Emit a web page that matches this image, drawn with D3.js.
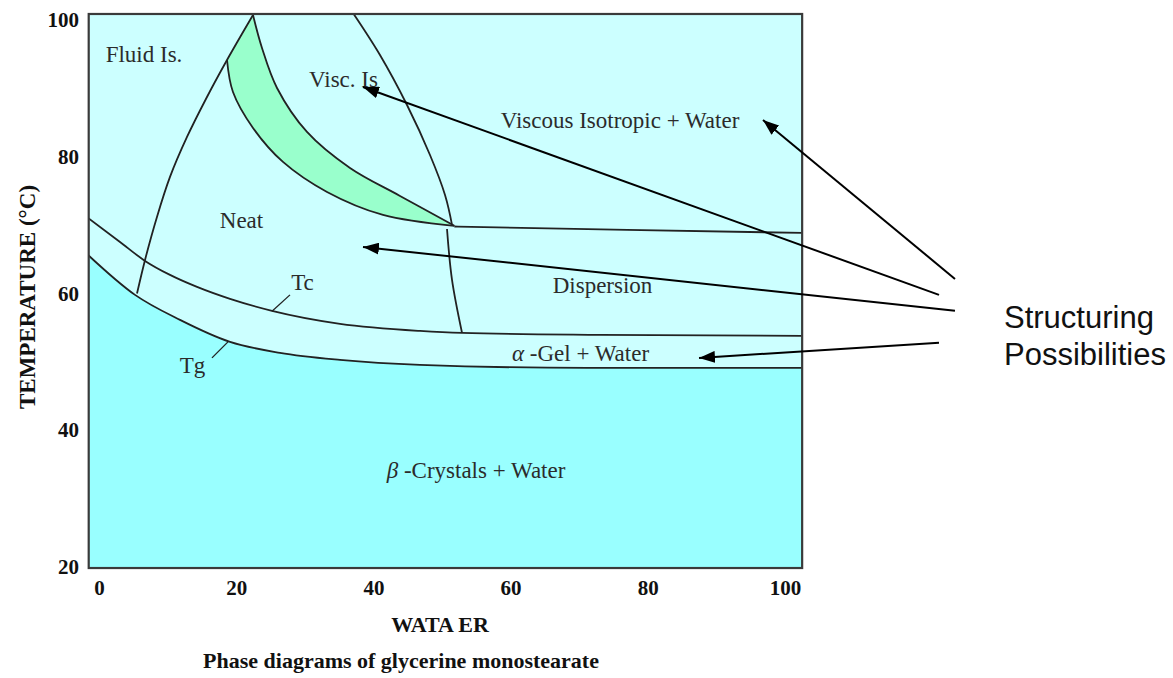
<!DOCTYPE html>
<html>
<head>
<meta charset="utf-8">
<script src="https://d3js.org/d3.v7.min.js"></script>
<style>
  body { margin: 0; background: #fff; }
  svg { display: block; }
  .lbl { font-family: "Liberation Serif", "Times New Roman", serif; font-size: 23px; fill: #2b2b2b; }
  .axis text { font-family: "Liberation Serif", "Times New Roman", serif; font-weight: bold; font-size: 21px; fill: #111; }
  .boundary { fill: none; stroke: #222; stroke-width: 1.8; }
</style>
</head>
<body>
<div id="diagram"></div>
<script>
// tick labels
var xTicks = [0, 20, 40, 60, 80, 100];
var yTicks = [20, 40, 60, 80, 100];

// phase boundaries, [water %, temperature °C]
var fluidNeat = [[22.45, 100.73], [18.66, 94.15], [15.74, 88.74], [12.83, 82.89], [10.35, 77.05], [8.45, 71.20], [6.71, 64.91], [5.54, 60.0]];
var bandUpper = [[22.45, 100.73], [23.76, 95.91], [25.95, 90.06], [30.32, 83.63], [36.59, 78.36], [43.88, 74.27], [51.8, 69.9]];
var bandLower = [[18.66, 94.15], [19.53, 89.47], [22.45, 84.21], [26.82, 79.24], [33.24, 74.85], [41.40, 71.49], [51.8, 69.9]];
var viscLine = [[37.03, 101.02], [40.96, 94.88], [44.90, 87.57], [48.25, 80.26], [50.44, 74.42], [51.46, 70.03]];
var dispersionLine = [[50.73, 69.44], [51.46, 61.99], [52.92, 54.24]];
var viscWaterLine = [[51.8, 69.8], [77, 69.3], [102.5, 68.86]];
var tcCurve = [[-1.6, 71.05], [3.06, 67.54], [6.71, 64.77], [10.35, 62.72], [14.29, 60.96], [19.10, 59.21], [25.22, 57.46], [35.13, 55.56], [46.79, 54.53], [52.92, 54.24], [73.03, 53.95], [102.5, 53.8]];
var tgCurve = [[-1.6, 65.64], [5.25, 59.80], [11.81, 56.14], [19.10, 52.92], [26.38, 51.32], [35.13, 50.29], [46.79, 49.56], [71.14, 49.12], [102.5, 49.12]];

// region names: [text, water, temperature]
var regionNames = [
  ["Fluid Is.", 6.56, 93.86],
  ["Visc. Is", 35.64, 90.20],
  ["Viscous Isotropic + Water", 75.95, 84.21],
  ["Neat", 20.77, 69.59],
  ["Dispersion", 73.40, 60.09],
  ["Tc", 29.66, 60.53],
  ["Tg", 13.63, 48.39]
];
var tcLeader = [[25.22, 57.40], [27.84, 59.80]];
var tgLeader = [[18.80, 52.92], [16.47, 50.58]];

// arrows to the structuring possibilities: [tail, tip]
var arrows = [
  [[124.78, 62.13], [96.79, 85.38]],
  [[122.45, 59.80], [38.48, 90.20]],
  [[124.78, 57.46], [38.48, 66.81]],
  [[122.45, 52.78], [87.46, 50.58]]
];

function gen_diagram() {
  var margin = {top: 20, left: 99},
      width = 686,
      height = 547;

  var x = d3.scaleLinear().domain([0, 100]).range([0, width]);
  var y = d3.scaleLinear().domain([20, 100]).range([height, 0]);

  var svg = d3.select("#diagram")
    .append("svg")
      .attr("width", 1173)
      .attr("height", 678);

  var defs = svg.append("defs");
  defs.append("marker")
      .attr("id", "head")
      .attr("viewBox", "0 -6 16 12")
      .attr("refX", 16)
      .attr("refY", 0)
      .attr("markerWidth", 16)
      .attr("markerHeight", 12)
      .attr("markerUnits", "userSpaceOnUse")
      .attr("orient", "auto")
    .append("path")
      .attr("d", "M0,-6L16,0L0,6Z")
      .attr("fill", "#000");

  var fx0 = x(-1.5), fx1 = x(102.5), fy0 = y(100.88), fy1 = y(19.85);
  defs.append("clipPath").attr("id", "plotclip")
    .append("rect")
      .attr("x", fx0).attr("y", fy0)
      .attr("width", fx1 - fx0).attr("height", fy1 - fy0);

  var g = svg.append("g")
      .attr("transform", "translate(" + margin.left + "," + margin.top + ")");

  // smooth line through the read points
  var line = d3.line()
      .x(function(d) { return x(d[0]); })
      .y(function(d) { return y(d[1]); })
      .curve(d3.curveCatmullRom);

  // curves that are functions of water content
  var lineX = d3.line()
      .x(function(d) { return x(d[0]); })
      .y(function(d) { return y(d[1]); })
      .curve(d3.curveMonotoneX);

  var plot = g.append("g").attr("clip-path", "url(#plotclip)");

  // background
  plot.append("rect")
      .attr("x", fx0).attr("y", fy0)
      .attr("width", fx1 - fx0).attr("height", fy1 - fy0)
      .attr("fill", "#ccffff");

  // beta crystals region below Tg
  plot.append("path")
      .attr("d", lineX(tgCurve) + "L" + x(102.5) + "," + y(19) + "L" + x(-1.6) + "," + y(19) + "Z")
      .attr("fill", "#99ffff");

  // green band
  var lowerRev = bandLower.slice().reverse();
  plot.append("path")
      .attr("d", line(bandUpper) + "L" + line(lowerRev).slice(1) + "Z")
      .attr("fill", "#99ffcc");

  [fluidNeat, bandUpper, bandLower, viscLine, dispersionLine].forEach(function(c) {
    plot.append("path").attr("class", "boundary").attr("d", line(c));
  });
  [viscWaterLine, tcCurve, tgCurve].forEach(function(c) {
    plot.append("path").attr("class", "boundary").attr("d", lineX(c));
  });

  var straight = d3.line()
      .x(function(d) { return x(d[0]); })
      .y(function(d) { return y(d[1]); });
  [tcLeader, tgLeader].forEach(function(c) {
    plot.append("path").attr("d", straight(c))
        .attr("stroke", "#222").attr("stroke-width", 1.3).attr("fill", "none");
  });

  // frame
  g.append("rect")
      .attr("x", fx0).attr("y", fy0)
      .attr("width", fx1 - fx0).attr("height", fy1 - fy0)
      .attr("fill", "none")
      .attr("stroke", "#3a3a3a")
      .attr("stroke-width", 2.2);

  // region labels
  g.selectAll("text.lbl.region")
      .data(regionNames)
    .enter().append("text")
      .attr("class", "lbl region")
      .attr("x", function(d) { return x(d[1]); })
      .attr("y", function(d) { return y(d[2]); })
      .attr("text-anchor", "middle")
      .text(function(d) { return d[0]; });

  var gel = g.append("text").attr("class", "lbl")
      .attr("x", x(70.19)).attr("y", y(50.15)).attr("text-anchor", "middle");
  gel.append("tspan").style("font-style", "italic").text("α");
  gel.append("tspan").text(" -Gel + Water");

  var cryst = g.append("text").attr("class", "lbl")
      .attr("x", x(54.96)).attr("y", y(33.04)).attr("text-anchor", "middle");
  cryst.append("tspan").style("font-style", "italic").text("β");
  cryst.append("tspan").text(" -Crystals + Water");

  // axes (labels only)
  var xAxis = d3.axisBottom(x).tickValues(xTicks).tickSize(0).tickPadding(0).tickFormat(d3.format("d"));
  var yAxis = d3.axisLeft(y).tickValues(yTicks).tickSize(0).tickPadding(0).tickFormat(d3.format("d"));

  g.append("g")
      .attr("class", "axis")
      .attr("transform", "translate(0," + (height + 13) + ")")
      .call(xAxis)
      .call(function(s) { s.select(".domain").remove(); });

  g.append("g")
      .attr("class", "axis")
      .attr("transform", "translate(-20,0)")
      .call(yAxis)
      .call(function(s) { s.select(".domain").remove(); });

  svg.append("text")
      .attr("transform", "translate(35,297) rotate(-90)")
      .attr("text-anchor", "middle")
      .style("font-family", "Liberation Serif, serif")
      .style("font-weight", "bold")
      .style("font-size", "23px")
      .attr("fill", "#111")
      .text("TEMPERATURE (°C)");

  svg.append("text")
      .attr("x", 440).attr("y", 632)
      .attr("text-anchor", "middle")
      .style("font-family", "Liberation Serif, serif")
      .style("font-weight", "bold")
      .style("font-size", "22px")
      .attr("fill", "#111")
      .text("WATA ER");

  svg.append("text")
      .attr("x", 401).attr("y", 668)
      .attr("text-anchor", "middle")
      .style("font-family", "Liberation Serif, serif")
      .style("font-weight", "bold")
      .style("font-size", "22px")
      .attr("fill", "#111")
      .text("Phase diagrams of glycerine monostearate");

  // arrows
  g.selectAll("line.arrow")
      .data(arrows)
    .enter().append("line")
      .attr("class", "arrow")
      .attr("x1", function(d) { return x(d[0][0]); })
      .attr("y1", function(d) { return y(d[0][1]); })
      .attr("x2", function(d) { return x(d[1][0]); })
      .attr("y2", function(d) { return y(d[1][1]); })
      .attr("stroke", "#000")
      .attr("stroke-width", 2)
      .attr("marker-end", "url(#head)");

  var note = svg.append("text")
      .style("font-family", "Liberation Sans, Arial, sans-serif")
      .style("font-size", "31px")
      .attr("fill", "#111");
  note.append("tspan").attr("x", 1004).attr("y", 328).text("Structuring");
  note.append("tspan").attr("x", 1004).attr("y", 365).text("Possibilities");
}
gen_diagram();
</script>
</body>
</html>
